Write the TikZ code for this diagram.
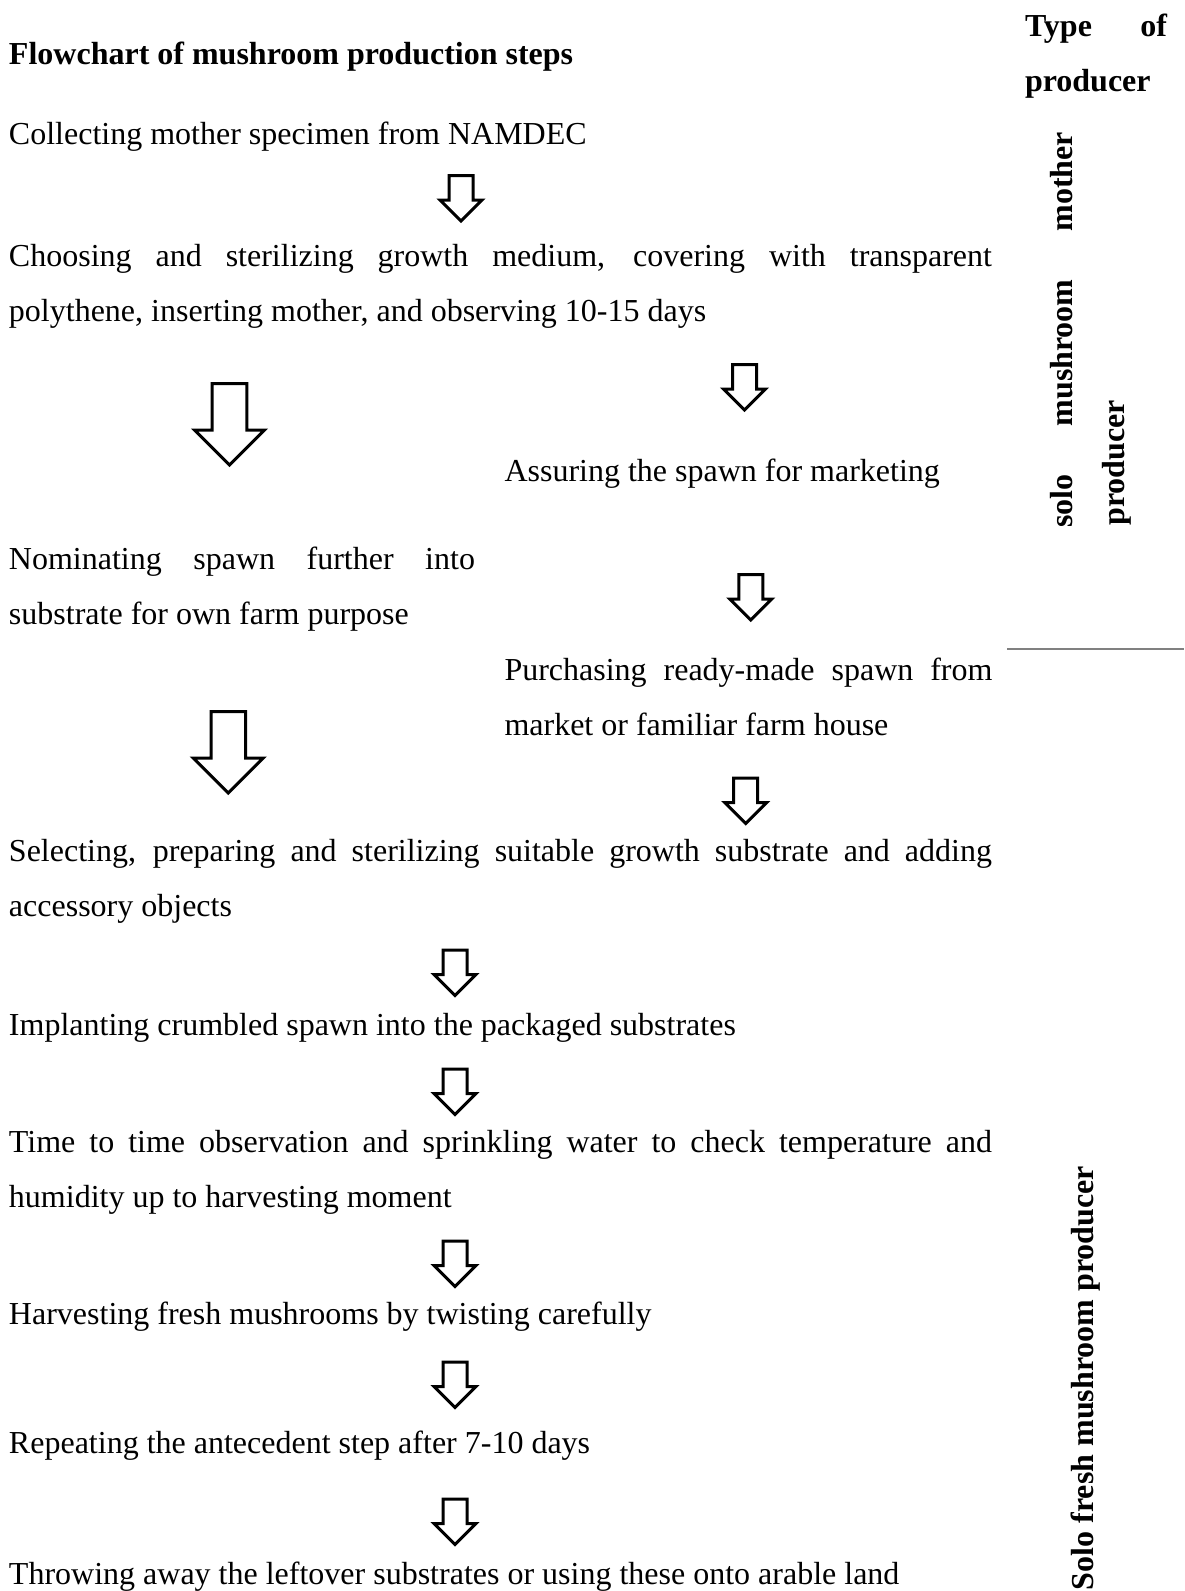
\documentclass[tikz,border=0pt]{standalone}
\usepackage{fontspec}
\setmainfont{Liberation Serif}
\begin{document}
\begin{tikzpicture}[x=1pt,y=-1pt,
  txt/.style={anchor=base west, inner sep=0pt, outer sep=0pt, font=\fontsize{32pt}{55pt}\selectfont},
  btxt/.style={txt, font=\fontsize{32pt}{55pt}\selectfont\bfseries},
  blk/.style={draw=black, line width=3pt, fill=white, line join=miter},
  pics/smallarr/.style={code={
    \draw[blk] (-12,0) -- (12,0) -- (12,24.5) -- (21,24.5) -- (0,45.5) -- (-21,24.5) -- (-12,24.5) -- cycle;}},
  pics/bigarr/.style={code={
    \draw[blk] (-17.3,0) -- (17.3,0) -- (17.3,46.5) -- (35,46.5) -- (0,81.5) -- (-35,46.5) -- (-17.3,46.5) -- cycle;}}]
\useasboundingbox (0,0) rectangle (1184,1591);
\clip (0,0) rectangle (1184,1591);

% left flow
\node[btxt] (title) at (9,64) {Flowchart of mushroom production steps};
\node[txt] (s1) at (9,144) {Collecting mother specimen from NAMDEC};
\node[txt] (s2a) at (9,266) {\makebox[983pt][s]{Choosing and sterilizing growth medium, covering with transparent}};
\node[txt] (s2b) at (9,321) {polythene, inserting mother, and observing 10-15 days};
\node[txt] (r1) at (504.5,481) {Assuring the spawn for marketing};
\node[txt] (l1a) at (9,569) {\makebox[466pt][s]{Nominating spawn further into}};
\node[txt] (l1b) at (9,624) {substrate for own farm purpose};
\node[txt] (r2a) at (504.5,680) {\makebox[488pt][s]{Purchasing ready-made spawn from}};
\node[txt] (r2b) at (504.5,735) {market or familiar farm house};
\node[txt] (s3a) at (9,861) {\makebox[983pt][s]{Selecting, preparing and sterilizing suitable growth substrate and adding}};
\node[txt] (s3b) at (9,916) {accessory objects};
\node[txt] (s4) at (9,1035) {Implanting crumbled spawn into the packaged substrates};
\node[txt] (s5a) at (9,1152.5) {\makebox[983pt][s]{Time to time observation and sprinkling water to check temperature and}};
\node[txt] (s5b) at (9,1207) {humidity up to harvesting moment};
\node[txt] (s6) at (9,1324) {Harvesting fresh mushrooms by twisting carefully};
\node[txt] (s7) at (9,1453) {Repeating the antecedent step after 7-10 days};
\node[txt] (s8) at (9,1584) {Throwing away the leftover substrates or using these onto arable land};

% block arrows
\pic (a1) at (461,175.5) {smallarr};
\pic (a2) at (229.5,383.5) {bigarr};
\pic (a3) at (744.5,364.5) {smallarr};
\pic (a4) at (750.8,574.5) {smallarr};
\pic (a5) at (228.3,711.5) {bigarr};
\pic (a6) at (745.7,778) {smallarr};
\pic (a7) at (455,950) {smallarr};
\pic (a8) at (455,1069) {smallarr};
\pic (a9) at (455,1241) {smallarr};
\pic (a10) at (455,1362) {smallarr};
\pic (a11) at (455,1499) {smallarr};

% right column
\node[btxt] (type1) at (1025,36) {\makebox[142pt][s]{Type of}};
\node[btxt] (type2) at (1025,91) {producer};
\node[btxt, rotate=90] (solo1) at (1072,527.6) {\makebox[395.6pt][s]{solo mushroom mother}};
\node[btxt, rotate=90] (solo2) at (1124,525.6) {producer};
\draw[gray, line width=1.5pt] (1007,649) coordinate (sepL) -- (1184,649) coordinate (sepR);
\node[btxt, rotate=90] (fresh) at (1093,1590) {Solo fresh mushroom producer};
\end{tikzpicture}
\end{document}
